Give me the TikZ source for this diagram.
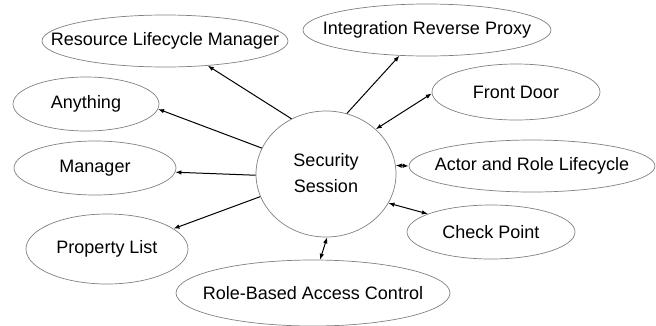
\documentclass[tikz,border=0pt]{standalone}
\usepackage{fontspec}
\setmainfont{Liberation Sans}
\usetikzlibrary{shapes.geometric,arrows.meta}
\newcommand{\zw}[1]{\makebox[0pt]{#1}}
\begin{document}
\begin{tikzpicture}[x=1pt,y=-1pt,
  el/.style={ellipse, draw=black!50, line width=0.7pt, inner sep=0pt, font=\fontsize{18}{26}\selectfont},
  arr/.style={-{Latex[length=6pt,width=4.5pt]}, line width=1pt},
  barr/.style={{Latex[length=6pt,width=4.5pt]}-{Latex[length=6pt,width=4.5pt]}, line width=1pt}]
\useasboundingbox (0,0) rectangle (656,325);
\node[el,minimum width=246pt,minimum height=52pt] (res) at (165,41) {\zw{Resource Lifecycle Manager}};
\node[el,minimum width=248pt,minimum height=52pt] (irp) at (427,30) {\zw{Integration Reverse Proxy}};
\node[el,minimum width=168pt,minimum height=56pt] (fd) at (516,92) {\zw{Front Door}};
\node[el,minimum width=246pt,minimum height=52pt] (arl) at (532,166) {\zw{Actor and Role Lifecycle}};
\node[el,minimum width=168pt,minimum height=54pt] (cp) at (491,232) {\zw{Check Point}};
\node[el,minimum width=274pt,minimum height=66pt] (rbac) at (313,293) {\zw{Role-Based Access Control}};
\node[el,minimum width=162pt,minimum height=70pt] (pl) at (107,249) {\zw{Property List}};
\node[el,minimum width=162pt,minimum height=54pt] (man) at (95,168) {\zw{Manager}};
\node[el,minimum width=146pt,minimum height=54pt] (any) at (86,104) {\zw{Anything}};
\node[el,minimum width=140pt,minimum height=126pt] (ss) at (326,174) {\zw{\begin{tabular}{@{}c@{}}Security\\Session\end{tabular}}};
\draw[arr] (ss.122.7) -- (res.-30);
\draw[arr] (ss.158) -- (any.-4);
\draw[arr] (ss.181) -- (man.-3);
\draw[arr] (ss.199.5) -- (pl.17);
\draw[arr] (ss.71) -- (irp.223);
\draw[barr] (ss.42) -- (fd.181);
\draw[barr] (ss.7) -- (arl.180);
\draw[barr] (ss.-25) -- (cp.164.5);
\draw[barr] (ss.-89) -- (rbac.78);
\end{tikzpicture}
\end{document}
